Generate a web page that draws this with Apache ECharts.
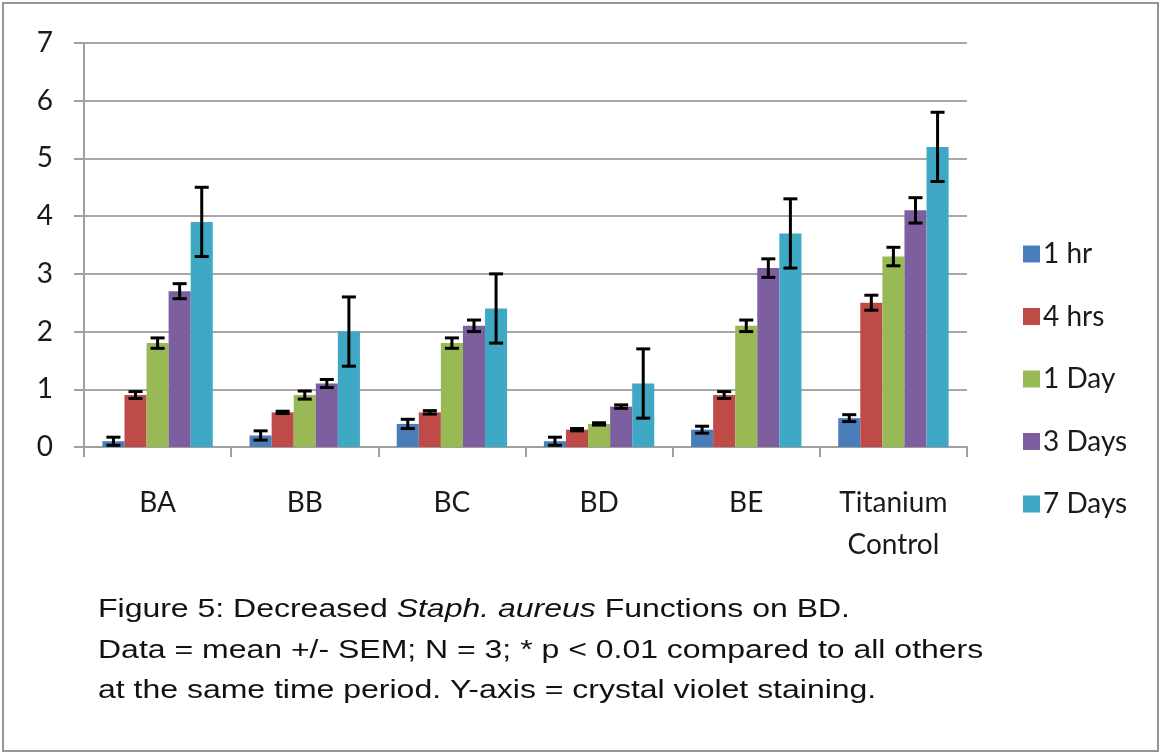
<!DOCTYPE html>
<html>
<head>
<meta charset="utf-8">
<script src="https://cdn.jsdelivr.net/npm/echarts@6/dist/echarts.min.js"></script>
<style>
html,body{margin:0;padding:0;background:#fff;}
#chart{width:1161px;height:753px;}
</style>
</head>
<body>
<div id="chart"></div>
<script>
const categories = ['BA', 'BB', 'BC', 'BD', 'BE', 'Titanium\nControl'];
const seriesNames = ['1 hr', '4 hrs', '1 Day', '3 Days', '7 Days'];
const yTicks = [0, 1, 2, 3, 4, 5, 6, 7];

const hr1Values   = [0.1, 0.2, 0.4, 0.1, 0.3, 0.5];
const hr1Err      = [0.07, 0.08, 0.08, 0.07, 0.06, 0.06];
const hrs4Values  = [0.9, 0.6, 0.6, 0.3, 0.9, 2.5];
const hrs4Err     = [0.06, 0.02, 0.03, 0.02, 0.06, 0.13];
const day1Values  = [1.8, 0.9, 1.8, 0.4, 2.1, 3.3];
const day1Err     = [0.09, 0.07, 0.09, 0.02, 0.1, 0.16];
const days3Values = [2.7, 1.1, 2.1, 0.7, 3.1, 4.1];
const days3Err    = [0.13, 0.07, 0.1, 0.03, 0.16, 0.22];
const days7Values = [3.9, 2.0, 2.4, 1.1, 3.7, 5.2];
const days7Err    = [0.6, 0.6, 0.6, 0.6, 0.6, 0.6];

const colors = ['#4A7EBB', '#BE4B48', '#98B954', '#7D5FA0', '#3FA9C5'];
const allValues = [hr1Values, hrs4Values, day1Values, days3Values, days7Values];
const allErrs = [hr1Err, hrs4Err, day1Err, days3Err, days7Err];

const nSeries = seriesNames.length;
const gapRatio = 0.25;

const barSeries = seriesNames.map((name, i) => ({
  name: name,
  type: 'bar',
  data: allValues[i],
  itemStyle: { color: colors[i] },
  barGap: '0%',
  barCategoryGap: '25%',
  z: 2
}));

const errSeries = seriesNames.map((name, i) => ({
  type: 'custom',
  name: 'err_' + name,
  z: 5,
  silent: true,
  data: allValues[i].map((v, k) => [k, v - allErrs[i][k], v + allErrs[i][k]]),
  renderItem: function (params, api) {
    const idx = api.value(0);
    const lo = api.coord([idx, api.value(1)]);
    const hi = api.coord([idx, api.value(2)]);
    const band = api.size([1, 0])[0];
    const barW = band * (1 - gapRatio) / nSeries;
    const cx = lo[0] + (i - (nSeries - 1) / 2) * barW;
    const cap = 7;
    const st = { stroke: '#000', lineWidth: 3 };
    return {
      type: 'group',
      children: [
        { type: 'line', shape: { x1: cx, y1: lo[1], x2: cx, y2: hi[1] }, style: st },
        { type: 'line', shape: { x1: cx - cap, y1: lo[1], x2: cx + cap, y2: lo[1] }, style: st },
        { type: 'line', shape: { x1: cx - cap, y1: hi[1], x2: cx + cap, y2: hi[1] }, style: st }
      ]
    };
  }
}));

const labelFont = 'Lato, "Open Sans", sans-serif';
const captionFont = '"Liberation Sans", Arial, sans-serif';
const capScale = 1.23;

const chart = echarts.init(document.getElementById('chart'), null, { renderer: 'canvas' });
chart.setOption({
  animation: false,
  backgroundColor: '#fff',
  grid: { left: 84, right: 194, top: 43, bottom: 306, containLabel: false },
  legend: {
    data: seriesNames,
    orient: 'vertical',
    left: 1018,
    top: 234,
    itemWidth: 17,
    itemHeight: 17,
    itemGap: 32.5,
    icon: 'rect',
    textStyle: { fontFamily: labelFont, fontSize: 28, color: '#1a1a1a', lineHeight: 30, padding: [0, 0, 0, -2] }
  },
  xAxis: {
    type: 'category',
    data: categories,
    axisLine: { lineStyle: { color: '#a0a0a0', width: 2 } },
    axisTick: { show: true, length: 10, alignWithLabel: false, lineStyle: { color: '#a0a0a0', width: 2 } },
    axisLabel: {
      fontFamily: labelFont, fontSize: 28, color: '#1a1a1a',
      margin: 35, lineHeight: 42, verticalAlign: 'top', interval: 0
    }
  },
  yAxis: {
    type: 'value',
    min: yTicks[0],
    max: yTicks[yTicks.length - 1],
    interval: 1,
    axisLine: { show: true, lineStyle: { color: '#a0a0a0', width: 2 } },
    axisTick: { show: true, length: 10, lineStyle: { color: '#a0a0a0', width: 2 } },
    splitLine: { lineStyle: { color: '#a8a8a8', width: 2 } },
    axisLabel: { fontFamily: labelFont, fontSize: 28, color: '#1a1a1a', margin: 31 }
  },
  series: barSeries.concat(errSeries),
  graphic: [
    {
      type: 'rect',
      shape: { x: 3, y: 3, width: 1155, height: 748 },
      style: { fill: 'none', stroke: '#959595', lineWidth: 2 },
      z: 100
    },
    {
      type: 'text', x: 98, y: 597, scaleX: capScale, z: 100,
      style: {
        text: '{n|Figure 5: Decreased }{i|Staph. aureus}{n| Functions on BD.}',
        verticalAlign: 'top',
        rich: {
          n: { fontFamily: captionFont, fontSize: 26, fill: '#111' },
          i: { fontFamily: captionFont, fontSize: 26, fontStyle: 'italic', fill: '#111' }
        }
      }
    },
    {
      type: 'text', x: 98, y: 638, scaleX: capScale, z: 100,
      style: { text: 'Data = mean +/- SEM; N = 3; * p < 0.01 compared to all others', verticalAlign: 'top', fontFamily: captionFont, fontSize: 26, fill: '#111' }
    },
    {
      type: 'text', x: 98, y: 678, scaleX: capScale, z: 100,
      style: { text: 'at the same time period. Y-axis = crystal violet staining.', verticalAlign: 'top', fontFamily: captionFont, fontSize: 26, fill: '#111' }
    }
  ]
});
</script>
</body>
</html>
